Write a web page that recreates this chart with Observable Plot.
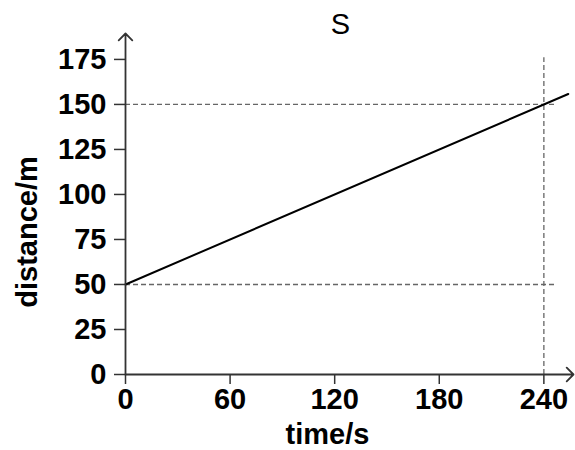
<!DOCTYPE html>
<html><head><meta charset="utf-8">
<script src="https://cdn.jsdelivr.net/npm/d3@7"></script>
<script src="https://cdn.jsdelivr.net/npm/@observablehq/plot@0.6"></script>
<style>body{margin:0;background:#fff}</style>
</head><body><div id="chart"></div>
<script>
const title = "S";
const xLabel = "time/s";
const yLabel = "distance/m";
const xTicks = [0, 60, 120, 180, 240];
const yTicks = [0, 25, 50, 75, 100, 125, 150, 175];
const time = [0, 254];
const distance = [50, 155.8];
const refDistance = [50, 150];
const refTime = [240];
const hRefTimeEnd = 247;
const vRefDistanceEnd = 176;
const xDomain = [0, 257];
const yDomain = [0, 189.4];

const lineData = time.map((t, i) => ({t, d: distance[i]}));

const chart = Plot.plot({
  width: 575, height: 450,
  marginLeft: 125, marginRight: 2, marginTop: 33, marginBottom: 76,
  style: {fontFamily: "'Liberation Sans', Arial, sans-serif", background: "white", color: "black"},
  x: {domain: xDomain},
  y: {domain: yDomain},
  marks: [
    Plot.ruleY(refDistance, {x1: 0, x2: hRefTimeEnd, stroke: "#666", strokeDasharray: "5,3", strokeWidth: 1.3}),
    Plot.ruleX(refTime, {y1: 0, y2: vRefDistanceEnd, stroke: "#666", strokeDasharray: "5,3", strokeWidth: 1.3}),
    Plot.line(lineData, {x: "t", y: "d", stroke: "black", strokeWidth: 2}),
    Plot.axisX({ticks: xTicks, tickSize: 10, tickPadding: 4, fontSize: 29, fontWeight: "bold", stroke: "#333", strokeWidth: 1.5, label: null, tickFormat: d => d}),
    Plot.axisY({ticks: yTicks, tickSize: 11, tickPadding: 8, fontSize: 29, fontWeight: "bold", stroke: "#333", strokeWidth: 1.5, label: null, tickFormat: d => d}),
    Plot.arrow([0], {x1: xDomain[0], y1: 0, x2: xDomain[1], y2: 0, stroke: "#333", strokeWidth: 1.8, headLength: 8, headAngle: 90}),
    Plot.arrow([0], {x1: 0, y1: yDomain[0], x2: 0, y2: yDomain[1], stroke: "#333", strokeWidth: 1.8, headLength: 8, headAngle: 90}),
    Plot.text([title], {text: d => d, frameAnchor: "top", lineAnchor: "bottom", dx: -9, dy: 0, fontSize: 29, fill: "black"}),
    Plot.text([xLabel], {text: d => d, frameAnchor: "bottom", lineAnchor: "bottom", dx: -22, dy: 69, fontSize: 29, fontWeight: "bold", fill: "black"}),
    Plot.text([yLabel], {text: d => d, frameAnchor: "left", textAnchor: "middle", lineAnchor: "bottom", rotate: -90, dx: -89, dy: 28, fontSize: 29, fontWeight: "bold", fill: "black"})
  ]
});
document.getElementById("chart").appendChild(chart);
</script>
</body></html>
